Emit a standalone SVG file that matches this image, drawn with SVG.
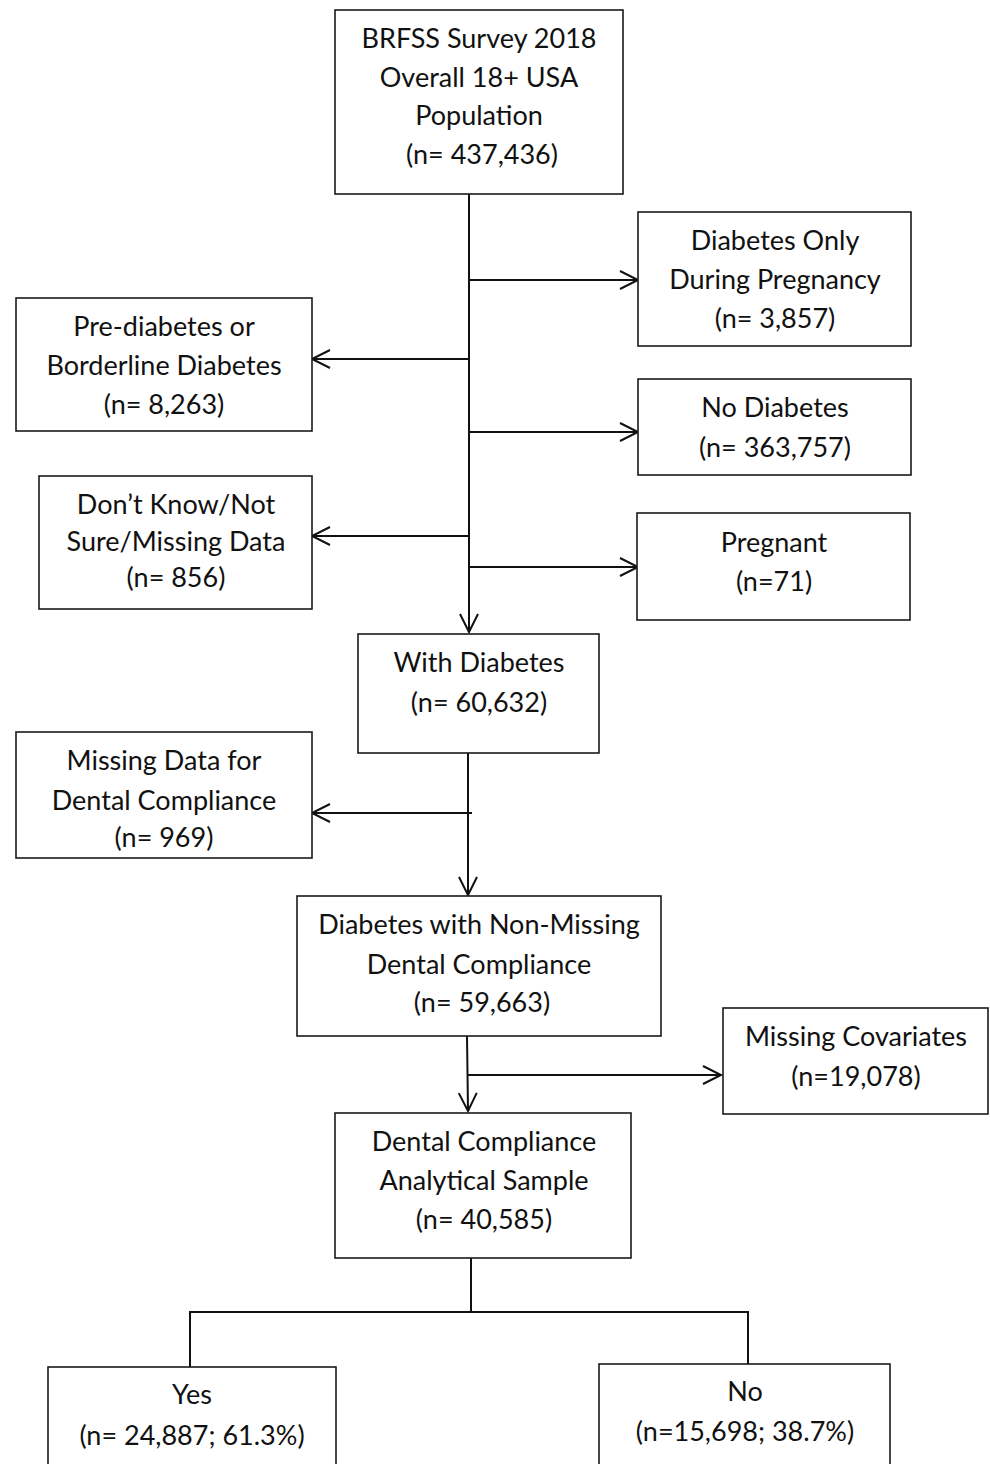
<svg xmlns="http://www.w3.org/2000/svg" width="990" height="1464" viewBox="0 0 990 1464">
<style>
.box{fill:#fff;stroke:#1a1a1a;stroke-width:1.6}
.t{font-family:Lato,"Open Sans","Liberation Sans",sans-serif;font-size:27px;fill:#111;text-anchor:middle}
.c{fill:none;stroke:#111;stroke-width:2}
</style>
<defs>
<marker id="ah" markerUnits="userSpaceOnUse" markerWidth="24" markerHeight="24" viewBox="0 0 24 24" refX="20" refY="12" orient="auto">
<path d="M2,3 L20,12 L2,21" fill="none" stroke="#111" stroke-width="2"/>
</marker>
</defs>
<g id="connectors">
<path class="c" d="M469,194 V632" marker-end="url(#ah)"/>
<path class="c" d="M469,280 H638" marker-end="url(#ah)"/>
<path class="c" d="M469,359 H312" marker-end="url(#ah)"/>
<path class="c" d="M469,432 H638" marker-end="url(#ah)"/>
<path class="c" d="M469,536 H312" marker-end="url(#ah)"/>
<path class="c" d="M469,567 H638" marker-end="url(#ah)"/>
<path class="c" d="M468,753 V895" marker-end="url(#ah)"/>
<path class="c" d="M472,813 H312" marker-end="url(#ah)"/>
<path class="c" d="M467,1036 L468,1111" marker-end="url(#ah)"/>
<path class="c" d="M468,1075 H721" marker-end="url(#ah)"/>
<path class="c" d="M471,1258 V1312 M190,1367 V1312 H748 V1364"/>
</g>
<g id="n1"><rect class="box" x="335" y="10" width="288" height="184"/>
<text class="t" x="479" y="48">BRFSS Survey 2018</text>
<text class="t" x="479" y="87">Overall 18+ USA</text>
<text class="t" x="479" y="125">Population</text>
<text class="t" x="482" y="164">(n= 437,436)</text></g>
<g id="n2"><rect class="box" x="638" y="212" width="273" height="134"/>
<text class="t" x="775" y="250">Diabetes Only</text>
<text class="t" x="775" y="289">During Pregnancy</text>
<text class="t" x="775" y="328">(n= 3,857)</text></g>
<g id="n3"><rect class="box" x="16" y="298" width="296" height="133"/>
<text class="t" x="164" y="336">Pre-diabetes or</text>
<text class="t" x="164" y="375">Borderline Diabetes</text>
<text class="t" x="164" y="414">(n= 8,263)</text></g>
<g id="n4"><rect class="box" x="638" y="379" width="273" height="96"/>
<text class="t" x="775" y="417">No Diabetes</text>
<text class="t" x="775" y="457">(n= 363,757)</text></g>
<g id="n5"><rect class="box" x="39" y="476" width="273" height="133"/>
<text class="t" x="176" y="514">Don’t Know/Not</text>
<text class="t" x="176" y="551">Sure/Missing Data</text>
<text class="t" x="176" y="587">(n= 856)</text></g>
<g id="n6"><rect class="box" x="637" y="513" width="273" height="107"/>
<text class="t" x="774" y="552">Pregnant</text>
<text class="t" x="774" y="591">(n=71)</text></g>
<g id="n7"><rect class="box" x="358" y="634" width="241" height="119"/>
<text class="t" x="479" y="672">With Diabetes</text>
<text class="t" x="479" y="712">(n= 60,632)</text></g>
<g id="n8"><rect class="box" x="16" y="732" width="296" height="126"/>
<text class="t" x="164" y="770">Missing Data for</text>
<text class="t" x="164" y="810">Dental Compliance</text>
<text class="t" x="164" y="847">(n= 969)</text></g>
<g id="n9"><rect class="box" x="297" y="896" width="364" height="140"/>
<text class="t" x="479" y="934">Diabetes with Non-Missing</text>
<text class="t" x="479" y="974">Dental Compliance</text>
<text class="t" x="482" y="1012">(n= 59,663)</text></g>
<g id="n10"><rect class="box" x="723" y="1008" width="265" height="106"/>
<text class="t" x="856" y="1046">Missing Covariates</text>
<text class="t" x="856" y="1086">(n=19,078)</text></g>
<g id="n11"><rect class="box" x="335" y="1113" width="296" height="145"/>
<text class="t" x="484" y="1151">Dental Compliance</text>
<text class="t" x="484" y="1190">Analytical Sample</text>
<text class="t" x="484" y="1229">(n= 40,585)</text></g>
<g id="n12"><rect class="box" x="48" y="1367" width="288" height="110"/>
<text class="t" x="192" y="1404">Yes</text>
<text class="t" x="192" y="1445">(n= 24,887; 61.3%)</text></g>
<g id="n13"><rect class="box" x="599" y="1364" width="291" height="110"/>
<text class="t" x="745" y="1401">No</text>
<text class="t" x="745" y="1441">(n=15,698; 38.7%)</text></g>
</svg>
